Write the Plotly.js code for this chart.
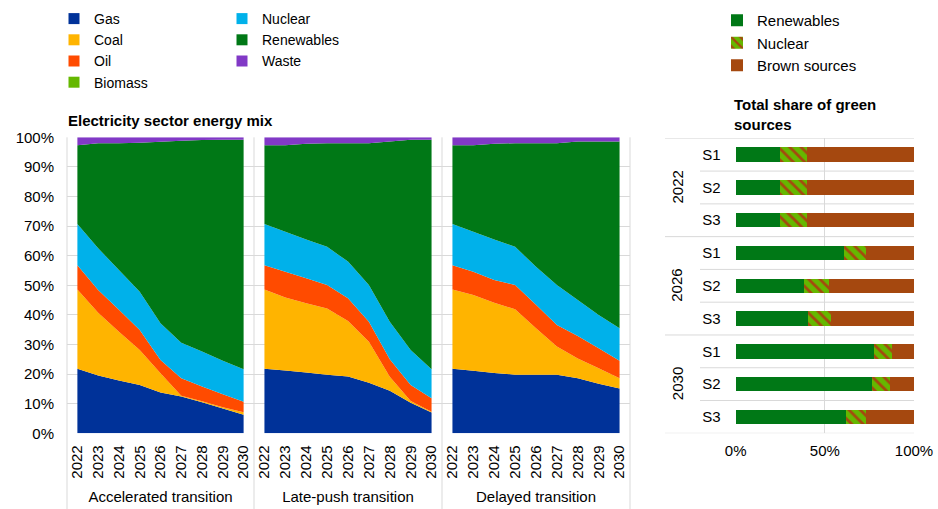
<!DOCTYPE html>
<html>
<head>
<meta charset="utf-8">
<script src="https://cdn.plot.ly/plotly-3.0.1.min.js"></script>
<style>
  html, body { margin: 0; padding: 0; background: #fff; }
  #chart { width: 938px; height: 509px; }
</style>
</head>
<body>
<div id="chart"></div>
<script>
// left chart: electricity sector energy mix, % of total, per scenario
var years = ["2022", "2023", "2024", "2025", "2026", "2027", "2028", "2029", "2030"];
var scenarioNames = ["Accelerated transition", "Late-push transition", "Delayed transition"];

var gasAcc = [21.8, 19.5, 17.8, 16.3, 13.8, 12.4, 10.5, 8.4, 6.3];
var coalAcc = [26.8, 21.2, 16.5, 11.8, 6.5, 0.3, 0.3, 0.4, 0.8];
var oilAcc = [8.2, 7.7, 7.4, 6.8, 4.5, 5.9, 5.0, 4.4, 3.6];
var biomassAcc = [0, 0, 0, 0, 0, 0, 0, 0, 0];
var nuclearAcc = [13.9, 14.1, 13.5, 12.9, 12.4, 12.0, 11.8, 11.3, 10.9];
var renewAcc = [26.6, 35.5, 42.8, 50.4, 61.3, 68.2, 71.5, 74.7, 77.6];
var wasteAcc = [2.7, 2.0, 2.0, 1.8, 1.5, 1.2, 0.9, 0.8, 0.8];

var gasLate = [21.8, 21.2, 20.5, 19.8, 19.2, 17.1, 14.4, 10.3, 7.0];
var coalLate = [26.8, 24.7, 23.4, 22.4, 18.7, 13.8, 4.7, 0.6, 0.3];
var oilLate = [8.2, 8.7, 8.5, 7.9, 7.7, 6.8, 5.9, 5.4, 4.5];
var biomassLate = [0, 0, 0, 0, 0, 0, 0, 0, 0];
var nuclearLate = [13.9, 13.5, 13.1, 12.9, 12.4, 12.4, 12.7, 11.8, 9.8];
var renewLate = [26.6, 29.2, 32.3, 35.0, 40.0, 47.9, 60.9, 71.1, 77.6];
var wasteLate = [2.7, 2.7, 2.2, 2.0, 2.0, 2.0, 1.4, 0.8, 0.8];

var gasDel = [21.8, 21.1, 20.4, 19.8, 19.8, 19.8, 18.6, 16.7, 15.1];
var coalDel = [26.8, 25.6, 23.7, 22.1, 15.7, 9.5, 6.7, 5.3, 3.5];
var oilDel = [8.2, 7.9, 7.7, 8.2, 7.9, 7.3, 7.6, 6.7, 5.9];
var biomassDel = [0, 0, 0, 0, 0, 0, 0, 0, 0];
var nuclearDel = [13.9, 13.5, 13.7, 12.9, 12.9, 13.5, 12.1, 11.3, 11.0];
var renewDel = [26.6, 29.2, 32.3, 35.0, 41.7, 47.9, 53.6, 58.6, 63.1];
var wasteDel = [2.7, 2.7, 2.2, 2.0, 2.0, 2.0, 1.4, 1.4, 1.4];

// right chart: total share of green sources, %
var shareYears = ["2022", "2026", "2030"];
var shareScen = ["S1", "S2", "S3"];
var shareRenew = [24.9, 24.9, 24.9, 60.7, 38.3, 40.7, 77.6, 76.6, 61.9];
var shareNuclear = [14.9, 14.9, 14.9, 12.6, 13.8, 12.6, 10.3, 10.1, 11.4];
var shareBrown = [60.2, 60.2, 60.2, 26.7, 47.9, 46.7, 12.1, 13.3, 26.7];

var FONT = "Liberation Sans, Arial, sans-serif";
var GRID = "#d9d9d9";
var W = 938, H = 509;
function px(v) { return v / W; }
function py(v) { return 1 - v / H; }

// legend: first column in "legend", second column in "legend3"
var sources = [
  {name: "Gas", color: "#003299", legend: "legend"},
  {name: "Coal", color: "#FFB400", legend: "legend"},
  {name: "Oil", color: "#FF4B00", legend: "legend"},
  {name: "Biomass", color: "#65B800", legend: "legend"},
  {name: "Nuclear", color: "#00B1EA", legend: "legend3"},
  {name: "Renewables", color: "#007816", legend: "legend3"},
  {name: "Waste", color: "#8139C6", legend: "legend3"}
];
var panels = [
  {x: "x", series: [gasAcc, coalAcc, oilAcc, biomassAcc, nuclearAcc, renewAcc, wasteAcc]},
  {x: "x2", series: [gasLate, coalLate, oilLate, biomassLate, nuclearLate, renewLate, wasteLate]},
  {x: "x3", series: [gasDel, coalDel, oilDel, biomassDel, nuclearDel, renewDel, wasteDel]}
];

var data = [];
panels.forEach(function(p, pi) {
  p.series.forEach(function(vals, si) {
    data.push({
      type: "scatter", mode: "none",
      x: years, y: vals,
      xaxis: p.x, yaxis: "y",
      stackgroup: "s" + pi,
      fillcolor: sources[si].color,
      showlegend: false, hoverinfo: "skip"
    });
  });
});
// square swatches for the left legend
sources.forEach(function(s) {
  data.push({
    type: "scatter", mode: "markers",
    x: [null], y: [null], xaxis: "x", yaxis: "y",
    name: s.name, legend: s.legend,
    marker: {symbol: "square", size: 11, color: s.color}
  });
});

// right chart bars
var shareKeys = [];
shareYears.forEach(function(y) {
  shareScen.forEach(function(s) { shareKeys.push(y + " " + s); });
});
var shareTicks = shareKeys.map(function(k) { return k.split(" ")[1]; });

data.push({
  type: "bar", orientation: "h", name: "Renewables",
  x: shareRenew, y: shareKeys, xaxis: "x4", yaxis: "y4", legend: "legend2",
  marker: {color: "#007816"}, hoverinfo: "skip"
});
data.push({
  type: "bar", orientation: "h", name: "Nuclear",
  x: shareNuclear, y: shareKeys, xaxis: "x4", yaxis: "y4", legend: "legend2",
  marker: {color: "#65B800", pattern: {shape: "\\", bgcolor: "#65B800", fgcolor: "#A5480F", size: 8, solidity: 0.35}},
  hoverinfo: "skip"
});
data.push({
  type: "bar", orientation: "h", name: "Brown sources",
  x: shareBrown, y: shareKeys, xaxis: "x4", yaxis: "y4", legend: "legend2",
  marker: {color: "#A5480F"}, hoverinfo: "skip"
});

var tickFont = {family: FONT, size: 15, color: "#000"};
function panelAxis(d0, d1, title) {
  return {
    domain: [px(d0), px(d1)], anchor: "y", type: "category",
    range: [-0.5, 8.5], tickangle: -90, showgrid: false, zeroline: false,
    showline: false, ticks: "", tickfont: tickFont, ticklabelstandoff: 8,
    title: {text: title, font: tickFont, standoff: 13}, fixedrange: true
  };
}

var shapes = [];
[67, 254, 442, 630].forEach(function(v) {
  shapes.push({type: "line", xref: "paper", yref: "paper",
    x0: px(v), x1: px(v), y0: 0, y1: py(137.3), line: {color: GRID, width: 1}});
});
// row dividers of the right chart
[0.5, 1.5, 3.5, 4.5, 6.5, 7.5].forEach(function(b) {
  shapes.push({type: "line", xref: "paper", yref: "y4",
    x0: px(700), x1: px(914), y0: b, y1: b, line: {color: GRID, width: 1}});
});
[-0.5, 2.5, 5.5, 8.5].forEach(function(b) {
  shapes.push({type: "line", xref: "paper", yref: "y4",
    x0: px(665), x1: px(914), y0: b, y1: b, line: {color: GRID, width: 1}});
});

var annotations = [
  {xref: "paper", yref: "paper", x: px(66), y: py(121), xanchor: "left", yanchor: "middle",
    text: "<b>Electricity sector energy mix</b>", showarrow: false,
    font: {family: FONT, size: 15, color: "#000"}},
  {xref: "paper", yref: "paper", x: px(732), y: py(114.5), xanchor: "left", yanchor: "middle",
    align: "left", text: "<b>Total share of green<br>sources</b>", showarrow: false,
    font: {family: FONT, size: 15, color: "#000"}}
];
shareYears.forEach(function(y) {
  annotations.push({xref: "paper", yref: "y4", x: px(677), y: y + " S2",
    xanchor: "center", yanchor: "middle",
    text: y, textangle: -90, showarrow: false, font: tickFont});
});

var legendFont = {family: FONT, size: 14, color: "#000"};
var layout = {
  width: W, height: H,
  margin: {l: 0, r: 0, t: 0, b: 0},
  paper_bgcolor: "#fff", plot_bgcolor: "rgba(0,0,0,0)",
  font: {family: FONT, size: 15, color: "#000"},
  hovermode: false,
  barmode: "stack", bargap: 0.56,
  xaxis: panelAxis(67, 254, scenarioNames[0]),
  xaxis2: panelAxis(254, 442, scenarioNames[1]),
  xaxis3: panelAxis(442, 630, scenarioNames[2]),
  yaxis: {
    domain: [py(433.3), py(137.3)], range: [0, 100], dtick: 10, ticksuffix: "%",
    gridcolor: GRID, gridwidth: 1, zeroline: false, showline: false, ticks: "",
    tickfont: tickFont, ticklabelstandoff: 12, fixedrange: true
  },
  xaxis4: {
    domain: [px(735.7), px(914)], anchor: "y4", range: [0, 100], dtick: 50, ticksuffix: "%",
    gridcolor: GRID, zeroline: false, showline: false, ticks: "",
    tickfont: tickFont, ticklabelstandoff: 7, fixedrange: true
  },
  yaxis4: {
    domain: [py(433.3), py(138.3)], anchor: "x4", type: "category",
    range: [8.5, -0.5], tickvals: shareKeys, ticktext: shareTicks,
    showgrid: false, zeroline: false, showline: false, ticks: "",
    tickfont: tickFont, ticklabelstandoff: 14, fixedrange: true
  },
  legend: {
    orientation: "v", x: px(54), xanchor: "left", y: py(3), yanchor: "top",
    font: legendFont, bgcolor: "rgba(0,0,0,0)", traceorder: "normal"
  },
  legend3: {
    orientation: "v", x: px(222), xanchor: "left", y: py(3), yanchor: "top",
    font: legendFont, bgcolor: "rgba(0,0,0,0)", traceorder: "normal"
  },
  legend2: {
    orientation: "v", x: px(717), xanchor: "left", y: py(4), yanchor: "top",
    font: {family: FONT, size: 15, color: "#000"}, bgcolor: "rgba(0,0,0,0)",
    traceorder: "normal"
  },
  shapes: shapes,
  annotations: annotations
};

Plotly.newPlot("chart", data, layout, {displayModeBar: false, staticPlot: true});
</script>
</body>
</html>
